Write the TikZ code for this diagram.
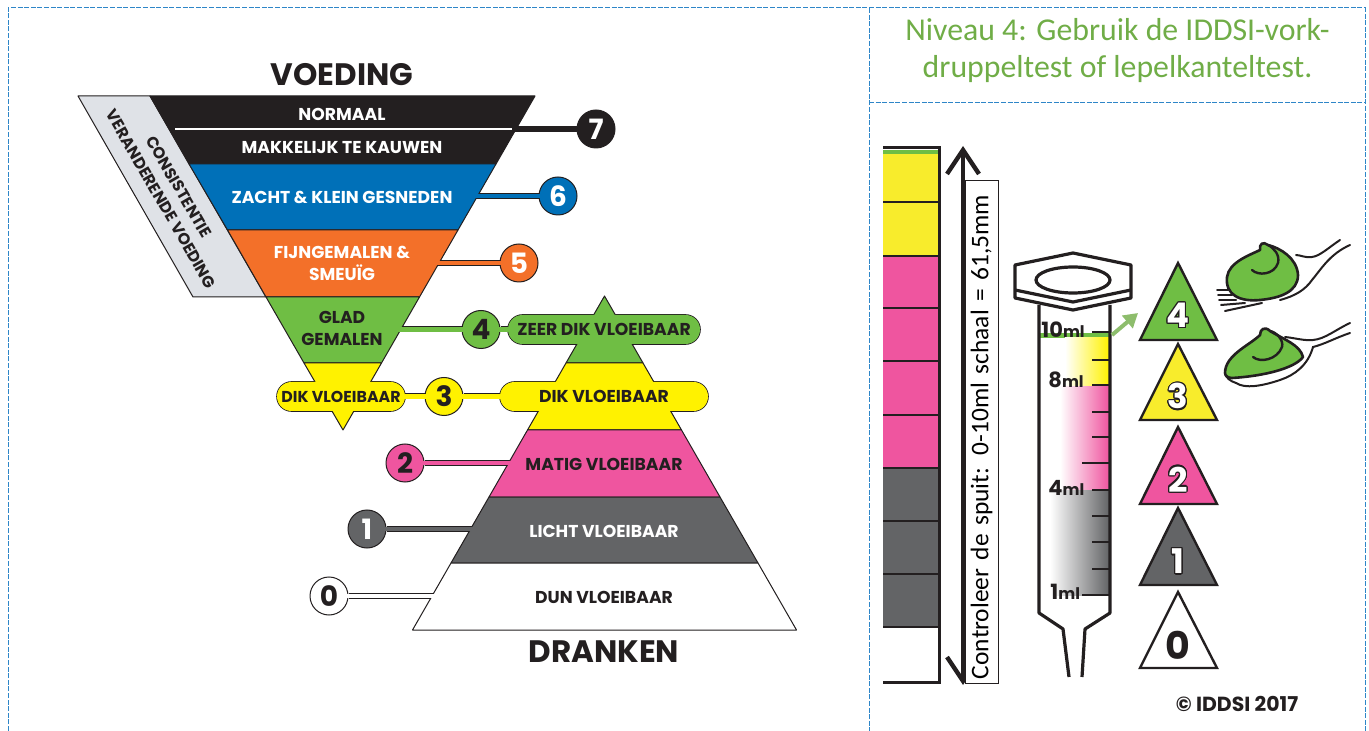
\documentclass[tikz,border=0pt]{standalone}
\usepackage{fontspec}
\usepackage{contour}
\setmainfont{Carlito}
\newfontfamily\heavyfont{Poppins}
\usetikzlibrary{shapes.misc,backgrounds,arrows.meta}
\contourlength{0.6pt}
\definecolor{ink}{HTML}{231F20}
\definecolor{lvlblue}{HTML}{0070B8}
\definecolor{lvlorange}{HTML}{F37029}
\definecolor{lvlgreen}{HTML}{6FBE44}
\definecolor{lvlyellow}{HTML}{FFF200}
\definecolor{lvlpink}{HTML}{EF559F}
\definecolor{lvlgrey}{HTML}{636466}
\definecolor{sidegrey}{HTML}{DFE2E7}
\definecolor{cellblue}{HTML}{2E86C8}
\definecolor{titlegreen}{HTML}{70AD47}
\definecolor{colyellow}{HTML}{F8EC2C}
\tikzset{
  layer/.style={draw=ink,line width=0.5pt,line join=round},
  lvl/.style={circle,draw=ink,line width=0.5pt,minimum size=19pt,inner sep=0pt,text=ink,
    font=\heavyfont\bfseries\fontsize{14}{14}\selectfont},
  pill/.style={rounded rectangle,minimum height=14.5pt,inner sep=0pt},
  word/.style={text=ink,inner sep=0pt,align=center,
    font=\heavyfont\bfseries\fontsize{8.6}{11}\selectfont},
  slant/.style={text=ink,inner sep=0pt,rotate=-60,
    font=\heavyfont\bfseries\fontsize{8}{9}\selectfont},
  big/.style={text=ink,inner sep=0pt,font=\heavyfont\bfseries\fontsize{15.5}{16}\selectfont},
  bandrim/.style={draw=ink,line width=3pt},
  band/.style={line width=2.3pt,shorten <=-1pt},
  cell/.style={draw=cellblue,dash pattern=on 2.5pt off 0.8pt,line width=0.5pt},
  syr/.style={draw=ink,line width=1.6pt,line join=round},
  tick/.style={draw=ink,line width=1.4pt},
  mllabel/.style={text=ink,inner sep=0pt,font=\heavyfont\bfseries\fontsize{10.5}{11}\selectfont},
  tri/.style={draw=ink,line width=1.2pt,line join=miter},
  trinum/.style={inner sep=0pt,font=\heavyfont\bfseries\fontsize{17}{17}\selectfont},
  blob/.style={draw=ink,line width=1.3pt,fill=lvlgreen,line join=round},
  stem/.style={draw=ink,line width=1pt,line cap=round},
  titleline/.style={titlegreen,inner sep=0pt,font=\fontsize{15.9}{16}\selectfont}
}
\begin{document}
\begin{tikzpicture}[x=0.5pt,y=-0.5pt]
  \useasboundingbox (0,0) rectangle (1369,731);

  % cell borders
  \draw [cell] (8,731) -- (8,8) -- (1365,8) -- (1365,731);
  \draw [cell] (869,8) -- (869,731);
  \draw [cell] (869,103) -- (1365,103);

  % pill rims lie under the layers
  \node [pill,draw=ink,line width=0.8pt,minimum width=96pt] (zeerrim) at (604,329.5) {};
  \node [pill,draw=ink,line width=0.8pt,minimum width=104pt] (dikrim) at (604,396.5) {};
  \node [pill,draw=ink,line width=0.8pt,minimum width=64pt] (leftrim) at (341,396.5) {};

  % food funnel
  \draw [layer,fill=sidegrey] (78,96) -- (150,96) -- (266,297) -- (193,297) -- cycle;
  \draw [layer,fill=ink] (150,96) -- (535,96) -- (496,164) -- (189,164) -- cycle;
  \draw [layer,fill=lvlblue] (189,164) -- (496,164) -- (458,230) -- (227.5,230) -- cycle;
  \draw [layer,fill=lvlorange] (227.5,230) -- (458,230) -- (419.5,297) -- (266,297) -- cycle;
  \draw [layer,fill=lvlgreen] (266,297) -- (419.5,297) -- (381.5,363) -- (304,363) -- cycle;
  \draw [layer,fill=lvlyellow] (304,363) -- (381.5,363) -- (343,430) -- cycle;
  \draw [white,line width=0.8pt] (175,129) -- (516,129);

  % drink pyramid
  \draw [layer,fill=lvlgreen] (604.5,296) -- (643,363) -- (566,363) -- cycle;
  \draw [layer,fill=lvlyellow] (566,363) -- (643,363) -- (681.5,430) -- (527.5,430) -- cycle;
  \draw [layer,fill=lvlpink] (527.5,430) -- (681.5,430) -- (720,497) -- (489,497) -- cycle;
  \draw [layer,fill=lvlgrey] (489,497) -- (720,497) -- (758,563) -- (451,563) -- cycle;
  \draw [layer,fill=white] (451,563) -- (758,563) -- (796.5,630) -- (412.5,630) -- cycle;

  % pills and level numbers
  \node [pill,fill=lvlgreen,minimum width=96pt,word] (zeer) at (604,329.5) {ZEER DIK VLOEIBAAR};
  \node [pill,fill=lvlyellow,minimum width=104pt,word] (dik) at (604,396.5) {DIK VLOEIBAAR};
  \node [pill,fill=lvlyellow,minimum width=64pt,word,font=\heavyfont\bfseries\fontsize{7.9}{11}\selectfont] (leftdik) at (341,396.5) {DIK VLOEIBAAR};

  \node [lvl,fill=ink,text=white] (lvl7) at (596,129) {7};
  \node [lvl,fill=lvlblue,text=white] (lvl6) at (558,196) {6};
  \node [lvl,fill=lvlorange,text=white] (lvl5) at (519,263) {5};
  \node [lvl,fill=lvlgreen] (lvl4) at (481,329.5) {4};
  \node [lvl,fill=lvlyellow] (lvl3) at (444,396.5) {3};
  \node [lvl,fill=lvlpink] (lvl2) at (405,463) {2};
  \node [lvl,fill=lvlgrey,text=white] (lvl1) at (367,529) {1};
  \node [lvl,fill=white] (lvl0) at (329,596) {0};

  \coordinate (edge7) at (512,129);
  \coordinate (edge6) at (474,196);
  \coordinate (edge5) at (436,263);
  \coordinate (edge4) at (398,329.5);
  \coordinate (edge2) at (512,463);
  \coordinate (edge1) at (474,529);
  \coordinate (edge0) at (436,596);

  \begin{scope}[on background layer]
    \draw [bandrim] (lvl7.west) -- (edge7);
    \draw [bandrim] (lvl6.west) -- (edge6);
    \draw [bandrim] (lvl5.west) -- (edge5);
    \draw [bandrim] (lvl4.west) -- (edge4);
    \draw [bandrim] (lvl4.east) -- (zeer.west);
    \draw [bandrim] (lvl3.west) -- (leftdik.east);
    \draw [bandrim] (lvl3.east) -- (dik.west);
    \draw [bandrim] (lvl2.east) -- (edge2);
    \draw [bandrim] (lvl1.east) -- (edge1);
    \draw [bandrim] (lvl0.east) -- (edge0);
  \end{scope}
  \draw [band,ink] (lvl7.west) -- (edge7);
  \draw [band,lvlblue] (lvl6.west) -- (edge6);
  \draw [band,lvlorange] (lvl5.west) -- (edge5);
  \draw [band,lvlgreen] (lvl4.west) -- (edge4);
  \draw [band,lvlgreen] (lvl4.east) -- ([xshift=1pt]zeer.west);
  \draw [band,lvlyellow] (lvl3.west) -- ([xshift=-1pt]leftdik.east);
  \draw [band,lvlyellow] (lvl3.east) -- ([xshift=1pt]dik.west);
  \draw [band,lvlpink] (lvl2.east) -- (edge2);
  \draw [band,lvlgrey] (lvl1.east) -- (edge1);
  \draw [band,white] (lvl0.east) -- (edge0);

  % labels of the left chart
  \node [big] (voeding) at (342,75) {VOEDING};
  \node [big] (dranken) at (604,652) {DRANKEN};
  \node [word,text=white] (normaal) at (342,114) {NORMAAL};
  \node [word,text=white] (kauwen) at (342,148) {MAKKELIJK TE KAUWEN};
  \node [word,text=white] (zacht) at (342,197) {ZACHT \& KLEIN GESNEDEN};
  \node [word,text=white] (fijn) at (342,263) {FIJNGEMALEN \&\\SMEUÏG};
  \node [word] (glad) at (342,328) {GLAD\\GEMALEN};
  \node [word] (matig) at (604,464) {MATIG VLOEIBAAR};
  \node [word,text=white] (licht) at (604,531) {LICHT VLOEIBAAR};
  \node [word] (dun) at (604,597) {DUN VLOEIBAAR};
  \node [slant] (consist) at (179,187) {CONSISTENTIE};
  \node [slant] (verand) at (161,199) {VERANDERENDE VOEDING};

  % title
  \node [titleline] (titleone) at (1117.5,30) {Niveau 4: Gebruik de IDDSI-vork-};
  \node [titleline] (titletwo) at (1117.5,69) {druppeltest of lepelkanteltest.};

  % scale column
  \foreach \from/\to/\col in {150/154/lvlgreen,154/256/colyellow,256/468/lvlpink,468/627/lvlgrey}
    \fill [\col] (883,\from) rectangle (939,\to);
  \foreach \yy in {202,256,308,361,415,468,521,574,627}
    \draw [ink,line width=1.4pt] (883,\yy) -- (939,\yy);
  \draw [ink,line width=1.8pt] (883,147.5) -- (939.5,147.5) -- (939.5,682.5) -- (883,682.5);

  % measuring arrow
  \coordinate (scaletop) at (963,146);
  \coordinate (scalebot) at (963,685);
  \draw [ink,line width=2.2pt,{Straight Barb[length=12pt,width=16pt,line width=2.2pt]}-{Straight Barb[length=12pt,width=16pt,line width=2.2pt]}] (scalebot) -- (scaletop);
  \node [rotate=90,draw=ink,fill=white,line width=0.5pt,minimum height=16.5pt,text width=247pt,inner xsep=2pt,inner ysep=0pt,align=left,font=\fontsize{12.7}{12.7}\selectfont] (scaletext) at (981.5,432) {Controleer de spuit: 0-10ml schaal = 61,5mm};

  % syringe
  \fill [lvlgreen] (1040,333) rectangle (1109,338);
  \shade [left color=white,right color=lvlyellow] (1065,338) rectangle (1109,387);
  \shade [left color=white,right color=lvlpink] (1060,387) rectangle (1109,490);
  \shade [left color=white,right color=lvlgrey] (1050,490) rectangle (1109,595);
  \draw [syr] (1039,305) -- (1039,613) -- (1063,629) -- (1069,677);
  \draw [syr] (1110,305) -- (1110,613) -- (1085,629) -- (1082,677);
  \draw [syr,fill=white] (1015,265) -- (1073,253) -- (1131,265) -- (1131,298) -- (1073,310) -- (1015,298) -- cycle;
  \draw [syr] (1015,290) -- (1073,302) -- (1131,290);
  \draw [syr] (1073,280) ellipse (37 and 13);
  \foreach \yy in {332,360,385,412,437,490,516,542,569}
    \draw [tick] (1092,\yy) -- (1110,\yy);
  \foreach \yy in {463,595}
    \draw [tick] (1082,\yy) -- (1110,\yy);
  \node [mllabel,anchor=west] (ml10) at (1041,330) {10\fontsize{8}{8}\selectfont ml};
  \node [mllabel,anchor=west] (ml8) at (1048,380) {8\fontsize{8}{8}\selectfont ml};
  \node [mllabel,anchor=west] (ml4) at (1048,488) {4\fontsize{8}{8}\selectfont ml};
  \node [mllabel,anchor=west] (ml1) at (1050,592) {1\fontsize{8}{8}\selectfont ml};

  % level triangles
  \draw [tri,fill=lvlgreen] (1178,263) -- (1217,340) -- (1140,340) -- cycle;
  \draw [tri,fill=colyellow] (1178,344) -- (1217,420) -- (1140,420) -- cycle;
  \draw [tri,fill=lvlpink] (1178,427) -- (1217,504) -- (1140,504) -- cycle;
  \draw [tri,fill=lvlgrey] (1178,508) -- (1217,585) -- (1140,585) -- cycle;
  \draw [tri,fill=white] (1178,592) -- (1217,668) -- (1140,668) -- cycle;
  \node [trinum] (tri4) at (1178,316) {\contour{ink}{\color{white}4}};
  \node [trinum] (tri3) at (1178,397) {\contour{ink}{\color{white}3}};
  \node [trinum] (tri2) at (1178,480) {\contour{ink}{\color{white}2}};
  \node [trinum] (tri1) at (1178,562) {\contour{ink}{\color{white}1}};
  \node [trinum,text=ink,font=\heavyfont\bfseries\fontsize{19}{19}\selectfont] (tri0) at (1178,645) {0};

  \coordinate (greenfrom) at (1112,335);
  \coordinate (greento) at (1138,313);
  \draw [titlegreen!80,line width=2pt,-{Triangle[length=7pt,width=8pt]}] (greenfrom) -- (greento);

  % fork with food
  \draw [stem] (1340,240) .. controls (1328,248) and (1320,256) .. (1312,257) .. controls (1305,258) and (1300,255) .. (1296,255);
  \draw [stem] (1350,245) .. controls (1330,254) and (1322,268) .. (1312,280) .. controls (1305,290) and (1295,296) .. (1280,300);
  \draw [stem] (1217,290) -- (1232,290);
  \draw [stem] (1218,295) -- (1232,295);
  \draw [stem] (1219,300) -- (1236,300);
  \draw [stem] (1221,305) -- (1245,303);
  \draw [stem] (1225,311) -- (1262,303);
  \draw [blob] (1227,277) .. controls (1229,262) and (1250,255) .. (1260,250) .. controls (1259,244) and (1263,241) .. (1268,245) .. controls (1280,248) and (1297,258) .. (1298,275) .. controls (1298,292) and (1280,298) .. (1260,300) .. controls (1240,302) and (1225,295) .. (1227,277) -- cycle;
  \draw [stem,line width=1.2pt] (1252,270) .. controls (1258,276) and (1274,275) .. (1278,263) .. controls (1280,255) and (1274,248) .. (1268,245);

  % spoon with food
  \draw [stem] (1350,323) .. controls (1335,330) and (1325,339) .. (1313,340) .. controls (1305,341) and (1295,338) .. (1285,337);
  \draw [stem] (1350,333) .. controls (1335,338) and (1325,344) .. (1313,347) .. controls (1308,365) and (1295,375) .. (1280,380) .. controls (1262,386) and (1245,389) .. (1236,383) .. controls (1230,381) and (1226,378) .. (1225,373);
  \draw [blob] (1225,373) .. controls (1225,355) and (1250,345) .. (1260,335) .. controls (1260,329) and (1265,326) .. (1270,331) .. controls (1285,340) and (1300,345) .. (1303,357) .. controls (1295,368) and (1265,376) .. (1232,378) .. controls (1228,378) and (1225,376) .. (1225,373) -- cycle;
  \draw [stem,line width=1.2pt] (1253,357) .. controls (1260,363) and (1277,360) .. (1282,347) .. controls (1284,340) and (1276,332) .. (1270,331);

  \node [text=ink,inner sep=0pt,font=\heavyfont\bfseries\fontsize{10.2}{11}\selectfont] (copyr) at (1237,704) {© IDDSI 2017};
\end{tikzpicture}
\end{document}
